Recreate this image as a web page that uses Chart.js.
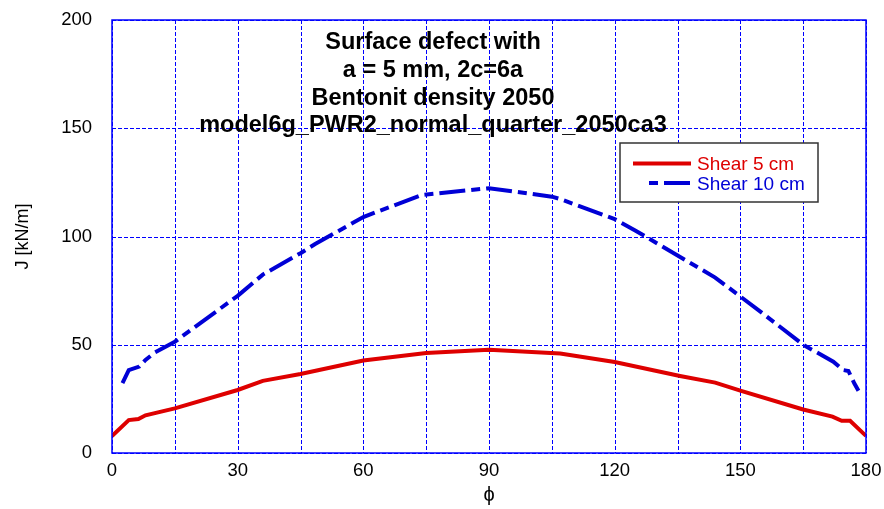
<!DOCTYPE html>
<html>
<head>
<meta charset="utf-8">
<script src="https://cdn.jsdelivr.net/npm/chart.js@4.4.1/dist/chart.umd.min.js"></script>
<style>
  html, body { margin: 0; padding: 0; background: #fff; }
  #wrap { width: 884px; height: 509px; }
</style>
</head>
<body>
<div id="wrap"><canvas id="chart" width="884" height="509"></canvas></div>
<script>
// J-integral along the crack front, angle phi in degrees
const phiShear5 = [0, 4, 6.3, 8, 15, 30, 36, 45, 60, 75, 90, 107, 120, 135.6, 144, 150, 165, 172, 174.2, 176.2, 180];
const jShear5 = [7.8, 15.2, 15.7, 17.4, 20.6, 29.1, 33.3, 36.5, 42.7, 46.2, 47.7, 46, 42, 35.6, 32.5, 28.8, 20.1, 16.8, 14.9, 14.9, 7.9];

const phiShear10 = [2.5, 4, 6.5, 8, 10.3, 15, 30, 36, 45, 48.5, 60, 74, 90, 105, 107, 120, 125, 144, 150, 156, 165, 172.2, 174.6, 175.8, 177.2, 178.2];
const jShear10 = [32.3, 38.3, 39.9, 43, 46.5, 51.4, 72.6, 82.4, 92.3, 96.5, 109, 119.2, 122.3, 118.4, 117.3, 108, 102.7, 81, 72.3, 63.5, 50, 42.2, 38.3, 37.9, 32.2, 28.8];

const seriesNames = ['Shear 5 cm', 'Shear 10 cm'];
const titleLines = ['Surface defect with', 'a = 5 mm, 2c=6a', 'Bentonit density 2050', 'model6g_PWR2_normal_quarter_2050ca3'];

const RED = 'rgb(222,0,0)';
const BLUE = 'rgb(0,0,214)';
const GRID = 'rgb(0,0,255)';
const FONT = '"Liberation Sans", Arial, sans-serif';

function toPoints(xs, ys) {
    return xs.map((x, i) => ({ x: x, y: ys[i] }));
}

// dotted blue grid at every tick (x every 15, y every 50)
const gridPlugin = {
    id: 'dashedGrid',
    beforeDatasetsDraw(chart) {
        const ctx = chart.ctx;
        const area = chart.chartArea;
        const xs = chart.scales.x, ys = chart.scales.y;
        ctx.save();
        ctx.strokeStyle = GRID;
        ctx.lineWidth = 1;
        ctx.setLineDash([4, 2]);
        ctx.beginPath();
        xs.ticks.forEach(t => {
            const px = Math.round(xs.getPixelForValue(t.value)) + 0.5;
            ctx.moveTo(px, area.top);
            ctx.lineTo(px, area.bottom);
        });
        ys.ticks.forEach(t => {
            const py = Math.round(ys.getPixelForValue(t.value)) + 0.5;
            ctx.moveTo(area.left, py);
            ctx.lineTo(area.right, py);
        });
        ctx.stroke();
        ctx.restore();
    }
};

// frame, title block and legend box drawn on top of the plot
const overlayPlugin = {
    id: 'overlay',
    afterDraw(chart) {
        const ctx = chart.ctx;
        const area = chart.chartArea;
        ctx.save();

        ctx.strokeStyle = GRID;
        ctx.lineWidth = 1.5;
        ctx.setLineDash([]);
        ctx.strokeRect(area.left, area.top, area.right - area.left, area.bottom - area.top);

        ctx.fillStyle = '#000';
        ctx.font = 'bold 23.5px ' + FONT;
        ctx.textAlign = 'center';
        ctx.textBaseline = 'middle';
        titleLines.forEach((line, i) => {
            ctx.fillText(line, 433, 42.5 + i * 27.8);
        });

        // legend
        const bx = 620, by = 143, bw = 198, bh = 59;
        ctx.fillStyle = '#fff';
        ctx.fillRect(bx, by, bw, bh);
        ctx.strokeStyle = '#333';
        ctx.lineWidth = 1.5;
        ctx.strokeRect(bx, by, bw, bh);

        ctx.font = '19px ' + FONT;
        ctx.textAlign = 'left';
        chart.data.datasets.forEach((ds, i) => {
            const y = by + 20.5 + i * 19.5;
            ctx.strokeStyle = ds.borderColor;
            ctx.lineWidth = ds.borderWidth;
            ctx.setLineDash(ds.borderDash || []);
            ctx.beginPath();
            if (ds.borderDash) {
                ctx.moveTo(690, y);
                ctx.lineTo(646, y);
            } else {
                ctx.moveTo(633, y);
                ctx.lineTo(691, y);
            }
            ctx.stroke();
            ctx.setLineDash([]);
            ctx.fillStyle = ds.borderColor;
            ctx.fillText(ds.label, 697, y + 1.5);
        });
        ctx.restore();
    }
};

new Chart(document.getElementById('chart'), {
    type: 'line',
    data: {
        datasets: [
            {
                label: seriesNames[0],
                data: toPoints(phiShear5, jShear5),
                borderColor: RED,
                borderWidth: 4,
                pointRadius: 0,
                tension: 0,
                fill: false
            },
            {
                label: seriesNames[1],
                data: toPoints(phiShear10, jShear10),
                borderColor: BLUE,
                borderWidth: 4,
                borderDash: [26, 6, 9, 6],
                pointRadius: 0,
                tension: 0,
                fill: false
            }
        ]
    },
    options: {
        responsive: false,
        animation: false,
        layout: { padding: { top: 20, right: 18, left: 0, bottom: 0 } },
        plugins: {
            legend: { display: false },
            tooltip: { enabled: false }
        },
        scales: {
            x: {
                type: 'linear',
                min: 0,
                max: 180,
                afterFit: (scale) => {
                    scale.height = 56;
                    scale.paddingLeft = 0;
                    scale.paddingRight = 0;
                },
                ticks: {
                    stepSize: 15,
                    autoSkip: false,
                    maxRotation: 0,
                    padding: 7,
                    color: '#000',
                    font: { family: FONT, size: 18.5 },
                    callback: (v) => (v % 30 === 0 ? v : '')
                },
                grid: { display: false, drawTicks: false },
                border: { display: false },
                title: {
                    display: true,
                    text: 'ϕ',
                    color: '#000',
                    font: { family: FONT, size: 20 },
                    padding: { top: 0, bottom: 2 }
                }
            },
            y: {
                min: 0,
                max: 200,
                afterFit: (scale) => {
                    scale.width = 112;
                    scale.paddingTop = 0;
                    scale.paddingBottom = 0;
                },
                ticks: {
                    stepSize: 50,
                    padding: 20,
                    color: '#000',
                    font: { family: FONT, size: 18.5 }
                },
                grid: { display: false, drawTicks: false },
                border: { display: false },
                title: {
                    display: true,
                    text: 'J [kN/m]',
                    color: '#000',
                    font: { family: FONT, size: 18 },
                    padding: { top: 12, bottom: 0 }
                }
            }
        }
    },
    plugins: [gridPlugin, overlayPlugin]
});
</script>
</body>
</html>
